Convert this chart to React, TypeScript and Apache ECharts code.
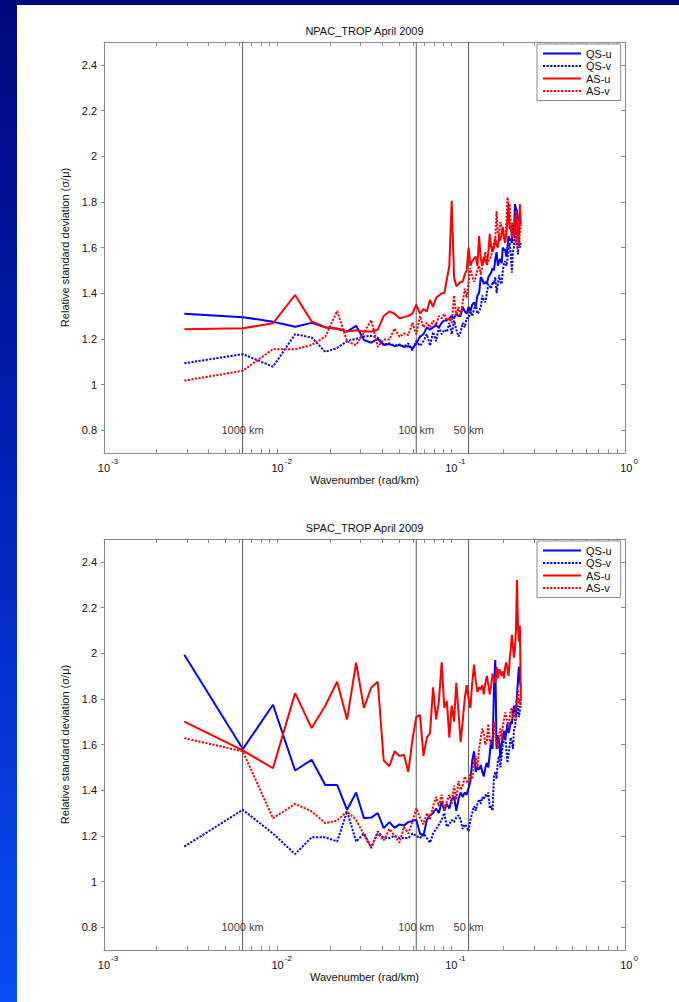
import React, { useEffect, useRef } from "react";
import * as echarts from "echarts";

// Wavenumber (rad/km) of each spectral point
const K = [
  0.0029, 0.0063, 0.0094, 0.0126, 0.0157, 0.0188, 0.022, 0.0251, 0.0283, 0.0314,
  0.0346, 0.0377, 0.0408, 0.044, 0.0471, 0.0503, 0.0534, 0.0565, 0.0597, 0.0628,
  0.066, 0.0691, 0.0723, 0.0754, 0.0785, 0.0817, 0.0848, 0.088, 0.0911, 0.0942,
  0.0974, 0.1005, 0.1037, 0.1068, 0.11, 0.1131, 0.1162, 0.1194, 0.1225, 0.1257,
  0.1288, 0.1319, 0.1351, 0.1382, 0.1414, 0.1445, 0.1477, 0.1508, 0.1539, 0.1571,
  0.1602, 0.1634, 0.1665, 0.1696, 0.1728, 0.1759, 0.1791, 0.1822, 0.1854, 0.1885,
  0.1916, 0.1948, 0.1979, 0.2011, 0.2042, 0.2073, 0.2105, 0.2136, 0.2168, 0.2199,
  0.2231, 0.2262, 0.2293, 0.2325, 0.2356, 0.2388, 0.2419, 0.245, 0.2482, 0.2513,
];

// NPAC_TROP April 2009
const NPAC_QS_U = [
  1.31, 1.295, 1.275, 1.253, 1.27, 1.25, 1.245, 1.232, 1.257, 1.195,
  1.183, 1.2, 1.173, 1.177, 1.168, 1.173, 1.165, 1.168, 1.158, 1.18,
  1.21, 1.22, 1.25, 1.24, 1.25, 1.26, 1.25, 1.27, 1.28, 1.28,
  1.29, 1.3, 1.29, 1.31, 1.3, 1.3, 1.34, 1.32, 1.31, 1.34,
  1.32, 1.35, 1.36, 1.34, 1.39, 1.4, 1.47, 1.46, 1.44, 1.45,
  1.44, 1.47, 1.48, 1.49, 1.51, 1.5, 1.55, 1.58, 1.52, 1.54,
  1.55, 1.53, 1.6, 1.59, 1.59, 1.56, 1.6, 1.65, 1.63, 1.64,
  1.62, 1.7, 1.66, 1.79, 1.77, 1.76, 1.73, 1.72, 1.71, 1.71,
];
const NPAC_QS_V = [
  1.093, 1.133, 1.078, 1.22, 1.206, 1.143, 1.16, 1.19, 1.2, 1.21,
  1.213, 1.205, 1.175, 1.18, 1.17, 1.175, 1.165, 1.18, 1.15, 1.19,
  1.17, 1.19, 1.22, 1.17, 1.23, 1.19, 1.25, 1.22, 1.24, 1.23,
  1.27, 1.22, 1.28, 1.24, 1.21, 1.23, 1.27, 1.25, 1.29, 1.29,
  1.32, 1.3, 1.33, 1.35, 1.31, 1.32, 1.34, 1.39, 1.37, 1.36,
  1.4, 1.44, 1.43, 1.42, 1.45, 1.44, 1.47, 1.4, 1.44, 1.48,
  1.45, 1.44, 1.5, 1.53, 1.54, 1.52, 1.55, 1.6, 1.62, 1.57,
  1.49, 1.58, 1.6, 1.71, 1.66, 1.62, 1.57, 1.64, 1.6, 1.62,
];
const NPAC_AS_U = [
  1.242, 1.246, 1.268, 1.392, 1.276, 1.251, 1.243, 1.232, 1.238, 1.232,
  1.232, 1.24, 1.3, 1.32, 1.31, 1.29, 1.295, 1.3, 1.31, 1.35,
  1.31, 1.33, 1.32, 1.37, 1.34, 1.38, 1.39, 1.4, 1.4, 1.46,
  1.52, 1.805, 1.47, 1.43, 1.44, 1.45, 1.45, 1.48, 1.5, 1.6,
  1.52, 1.54, 1.55, 1.56, 1.52, 1.65, 1.55, 1.52, 1.56, 1.54,
  1.53, 1.58, 1.66, 1.6, 1.58, 1.6, 1.64, 1.61, 1.6, 1.65,
  1.63, 1.66, 1.69, 1.64, 1.62, 1.66, 1.72, 1.79, 1.68, 1.7,
  1.64, 1.66, 1.65, 1.7, 1.76, 1.7, 1.66, 1.61, 1.79, 1.7,
];
const NPAC_AS_V = [
  1.017, 1.06, 1.155, 1.154, 1.173, 1.209, 1.322, 1.188, 1.173, 1.227,
  1.282, 1.165, 1.197, 1.197, 1.245, 1.209, 1.224, 1.216, 1.27, 1.22,
  1.3, 1.25, 1.27, 1.25, 1.28, 1.26, 1.3, 1.29, 1.31, 1.28,
  1.29, 1.27, 1.39, 1.3, 1.34, 1.3, 1.36, 1.42, 1.38, 1.45,
  1.51, 1.47, 1.45, 1.47, 1.5, 1.52, 1.48, 1.52, 1.55, 1.58,
  1.52, 1.54, 1.55, 1.56, 1.6, 1.62, 1.64, 1.76, 1.66, 1.65,
  1.71, 1.69, 1.67, 1.65, 1.63, 1.7, 1.82, 1.79, 1.79, 1.7,
  1.65, 1.71, 1.71, 1.66, 1.61, 1.7, 1.72, 1.6, 1.67, 1.7,
];

// SPAC_TROP April 2009
const SPAC_QS_U = [
  1.993, 1.58, 1.774, 1.486, 1.533, 1.423, 1.423, 1.314, 1.39, 1.277,
  1.28, 1.3, 1.234, 1.26, 1.235, 1.25, 1.245, 1.26, 1.265, 1.27,
  1.21, 1.2, 1.27, 1.29, 1.3, 1.32, 1.3, 1.35, 1.31, 1.34,
  1.32, 1.36, 1.37, 1.31, 1.36, 1.39, 1.37, 1.39, 1.38, 1.41,
  1.44, 1.53, 1.57, 1.48, 1.5, 1.49, 1.51, 1.48, 1.46, 1.5,
  1.52, 1.5, 1.56, 1.62, 1.58, 1.84, 1.97, 1.58, 1.64, 1.62,
  1.54, 1.6, 1.63, 1.66, 1.62, 1.66, 1.69, 1.65, 1.67, 1.7,
  1.69, 1.74, 1.77, 1.75, 1.72, 1.82, 1.88, 1.94, 1.88, 1.85,
];
const SPAC_QS_V = [
  1.153, 1.314, 1.21, 1.12, 1.194, 1.194, 1.175, 1.307, 1.175, 1.21,
  1.146, 1.219, 1.19, 1.19, 1.2, 1.19, 1.19, 1.19, 1.21, 1.2,
  1.19, 1.21, 1.19, 1.17, 1.21, 1.23, 1.25, 1.27, 1.3, 1.24,
  1.25, 1.27, 1.26, 1.28, 1.29, 1.27, 1.23, 1.25, 1.24, 1.22,
  1.27, 1.3, 1.33, 1.31, 1.34, 1.36, 1.34, 1.37, 1.36, 1.38,
  1.37, 1.39, 1.32, 1.33, 1.31, 1.46, 1.48, 1.45, 1.53, 1.55,
  1.5, 1.55, 1.6, 1.62, 1.64, 1.58, 1.52, 1.56, 1.6, 1.63,
  1.61, 1.58, 1.66, 1.68, 1.71, 1.74, 1.77, 1.72, 1.75, 1.8,
];
const SPAC_AS_U = [
  1.7, 1.574, 1.496, 1.825, 1.672, 1.77, 1.875, 1.71, 1.958, 1.76,
  1.85, 1.875, 1.53, 1.505, 1.57, 1.55, 1.555, 1.48, 1.62, 1.72,
  1.73, 1.55, 1.63, 1.65, 1.85, 1.71, 1.79, 1.96, 1.76, 1.79,
  1.63, 1.77, 1.7, 1.87, 1.74, 1.61, 1.7, 1.8, 1.86, 1.8,
  1.76, 1.87, 1.95, 1.88, 1.83, 1.85, 1.84, 1.86, 1.82, 1.87,
  1.9, 1.86, 1.82, 1.86, 1.91, 1.88, 1.87, 1.94, 1.89, 1.93,
  1.92, 1.9, 1.92, 1.89, 1.94, 1.96, 1.93, 1.9, 1.97, 2.02,
  2.08, 2.03, 1.98, 2.02, 2.1, 2.32, 2.12, 2.05, 2.12, 1.8,
];
const SPAC_AS_V = [
  1.628, 1.57, 1.277, 1.34, 1.307, 1.255, 1.267, 1.307, 1.27, 1.204,
  1.153, 1.21, 1.18, 1.23, 1.2, 1.17, 1.24, 1.21, 1.26, 1.32,
  1.28, 1.25, 1.3, 1.27, 1.33, 1.37, 1.33, 1.38, 1.31, 1.35,
  1.38, 1.34, 1.42, 1.36, 1.44, 1.4, 1.42, 1.46, 1.44, 1.43,
  1.47, 1.45, 1.52, 1.55, 1.5, 1.58, 1.63, 1.67, 1.65, 1.6,
  1.62, 1.69, 1.62, 1.6, 1.63, 1.7, 1.64, 1.6, 1.58, 1.64,
  1.67, 1.62, 1.68, 1.71, 1.74, 1.72, 1.7, 1.67, 1.72, 1.75,
  1.76, 1.72, 1.73, 1.7, 1.78, 1.8, 1.84, 1.78, 1.8, 1.76,
];

const SERIES_NAMES = ["QS-u", "QS-v", "AS-u", "AS-v"];
const PANEL_TITLES = ["NPAC_TROP April 2009", "SPAC_TROP April 2009"];
const PANEL_DATA = [
  [NPAC_QS_U, NPAC_QS_V, NPAC_AS_U, NPAC_AS_V],
  [SPAC_QS_U, SPAC_QS_V, SPAC_AS_U, SPAC_AS_V],
];

const Y_MIN = 0.7;
const Y_MAX = 2.5;
const Y_TICKS = [0.8, 1, 1.2, 1.4, 1.6, 1.8, 2, 2.2, 2.4];
const X_LABELS = [0.001, 0.01, 0.1, 1];
const X_TICKS = [
  0.001, 0.002, 0.003, 0.004, 0.005, 0.006, 0.007, 0.008, 0.009,
  0.01, 0.02, 0.03, 0.04, 0.05, 0.06, 0.07, 0.08, 0.09,
  0.1, 0.2, 0.3, 0.4, 0.5, 0.6, 0.7, 0.8, 0.9, 1,
];
const SCALE_K = [0.00628, 0.0628, 0.1257];
const SCALE_LABELS = ["1000 km", "100 km", "50 km"];
const SCALE_LABEL_Y = 0.8;

// layout / style
const W = 679;
const H = 1002;
const GRID_LEFT = 104;
const GRID_W = 521;
const GRID_H = 411;
const GRID_TOPS = [42, 539];
const FONT = "'Liberation Sans', Arial, Helvetica, sans-serif";
const AX = "#8a8a8a";
const TXT = "#111111";
const COLORS = ["#0000ff", "#0000ff", "#ff0000", "#ff0000"];
const DOTTED = [2.2, 1.4];

function buildOption() {
  const grid: any[] = [];
  const xAxis: any[] = [];
  const yAxis: any[] = [];
  const series: any[] = [];
  const legend: any[] = [];
  const graphic: any[] = [];

  PANEL_TITLES.forEach((title, p) => {
    const top = GRID_TOPS[p];
    grid.push({ left: GRID_LEFT, top, width: GRID_W, height: GRID_H, containLabel: false });

    const xBase = {
      gridIndex: p,
      type: "log",
      logBase: 10,
      min: 0.001,
      max: 1,
      splitLine: { show: false },
      minorTick: { show: false },
      axisLine: { show: true, onZero: false, lineStyle: { color: AX, width: 1 } },
      axisTick: { show: true, inside: true, length: 4, customValues: X_TICKS, lineStyle: { color: AX } },
    };
    xAxis.push({
      ...xBase,
      position: "bottom",
      axisLabel: {
        show: true,
        customValues: X_LABELS,
        margin: 4,
        formatter: (v: number) => `{b|10}{s|${Math.round(Math.log10(v))}}`,
        rich: {
          b: { fontSize: 11, color: TXT, fontFamily: FONT, lineHeight: 16, verticalAlign: "bottom", padding: [0, 0, 0, 8] },
          s: { fontSize: 8, color: TXT, fontFamily: FONT, lineHeight: 16, verticalAlign: "top", padding: [0, 0, 0, 1] },
        },
      },
      name: "Wavenumber (rad/km)",
      nameLocation: "middle",
      nameGap: 21,
      nameTextStyle: { fontSize: 11, color: TXT, fontFamily: FONT },
    });
    xAxis.push({ ...xBase, position: "top", axisLabel: { show: false } });

    const yBase = {
      gridIndex: p,
      type: "value",
      min: Y_MIN,
      max: Y_MAX,
      splitLine: { show: false },
      axisLine: { show: true, onZero: false, lineStyle: { color: AX, width: 1 } },
    };
    yAxis.push({
      ...yBase,
      position: "left",
      axisTick: { show: true, inside: false, length: 3, customValues: Y_TICKS, lineStyle: { color: AX } },
      axisLabel: {
        show: true,
        customValues: Y_TICKS,
        margin: 7,
        fontSize: 11,
        color: TXT,
        fontFamily: FONT,
        formatter: (v: number) => String(Math.round(v * 10) / 10),
      },
      name: "Relative standard deviation (\u03c3/\u03bc)",
      nameLocation: "middle",
      nameGap: 26,
      nameTextStyle: { fontSize: 11, color: TXT, fontFamily: FONT },
    });
    yAxis.push({
      ...yBase,
      position: "right",
      axisTick: { show: true, inside: true, length: 4, customValues: Y_TICKS, lineStyle: { color: AX } },
      axisLabel: { show: false },
    });

    const xi = p * 2;
    const yi = p * 2;

    // vertical scale lines (1000 km, 100 km, 50 km)
    SCALE_K.forEach((k, i) => {
      series.push({
        type: "line",
        name: "scale-line-" + p + "-" + i,
        xAxisIndex: xi,
        yAxisIndex: yi,
        silent: true,
        symbol: "none",
        showSymbol: false,
        data: [
          [k, Y_MIN],
          [k, Y_MAX],
        ],
        lineStyle: { color: "#5a5a5a", width: 1, type: "solid" },
        z: 1,
      });
    });

    // scale labels
    series.push({
      type: "scatter",
      name: "scale-labels-" + p,
      xAxisIndex: xi,
      yAxisIndex: yi,
      silent: true,
      symbol: "circle",
      symbolSize: 0,
      itemStyle: { color: "#000000" },
      data: SCALE_K.map((k, i) => ({ name: SCALE_LABELS[i], value: [k, SCALE_LABEL_Y] })),
      label: {
        show: true,
        position: "top",
        distance: 0,
        align: "center",
        verticalAlign: "middle",
        formatter: "{b}",
        fontSize: 11,
        color: "#000000",
        fontFamily: FONT,
      },
      z: 2,
    });

    PANEL_DATA[p].forEach((vals, s) => {
      series.push({
        type: "line",
        name: SERIES_NAMES[s],
        xAxisIndex: xi,
        yAxisIndex: yi,
        symbol: "none",
        showSymbol: false,
        clip: true,
        data: K.map((k, i) => [k, vals[i]]),
        lineStyle: { color: COLORS[s], width: 2, type: s % 2 === 1 ? DOTTED : "solid" },
        itemStyle: { color: COLORS[s] },
        z: 3 + s,
      });
    });

    legend.push({
      data: SERIES_NAMES,
      orient: "vertical",
      left: 537,
      top: top + 2,
      itemWidth: 38,
      itemHeight: 12,
      itemGap: 1.5,
      padding: [4, 9, 4, 5],
      borderColor: AX,
      borderWidth: 1,
      backgroundColor: "#ffffff",
      selectedMode: false,
      itemStyle: { opacity: 0 },
      lineStyle: { width: 2 },
      textStyle: { fontSize: 11, color: TXT, fontFamily: FONT },
    });

    graphic.push({
      type: "text",
      x: GRID_LEFT + GRID_W / 2,
      y: top - 11,
      style: {
        text: title,
        fill: TXT,
        font: `11px ${FONT}`,
        align: "center",
        verticalAlign: "middle",
        textAlign: "center",
        textVerticalAlign: "middle",
      },
    });
  });

  return {
    animation: false,
    backgroundColor: "transparent",
    grid,
    xAxis,
    yAxis,
    series,
    legend,
    graphic,
  };
}

function Chart() {
  const ref = useRef<HTMLDivElement>(null);
  useEffect(() => {
    if (!ref.current) return;
    const chart = echarts.init(ref.current, undefined, { renderer: "svg", width: W, height: H });
    chart.setOption(buildOption() as any);
    return () => chart.dispose();
  }, []);
  return <div ref={ref} style={{ position: "absolute", left: 0, top: 0, width: W, height: H }} />;
}

export default function App() {
  useEffect(() => {
    document.body.style.margin = "0";
    document.body.style.background = "#ffffff";
  }, []);
  return (
    <div
      style={{
        position: "relative",
        width: W,
        height: H,
        overflow: "hidden",
        background: "linear-gradient(to bottom, #00087c 0%, #0020b4 45%, #0a4ef4 100%)",
      }}
    >
      <div style={{ position: "absolute", left: 17, top: 5, width: W - 17, height: H - 5, background: "#ffffff" }} />
      <Chart />
    </div>
  );
}
